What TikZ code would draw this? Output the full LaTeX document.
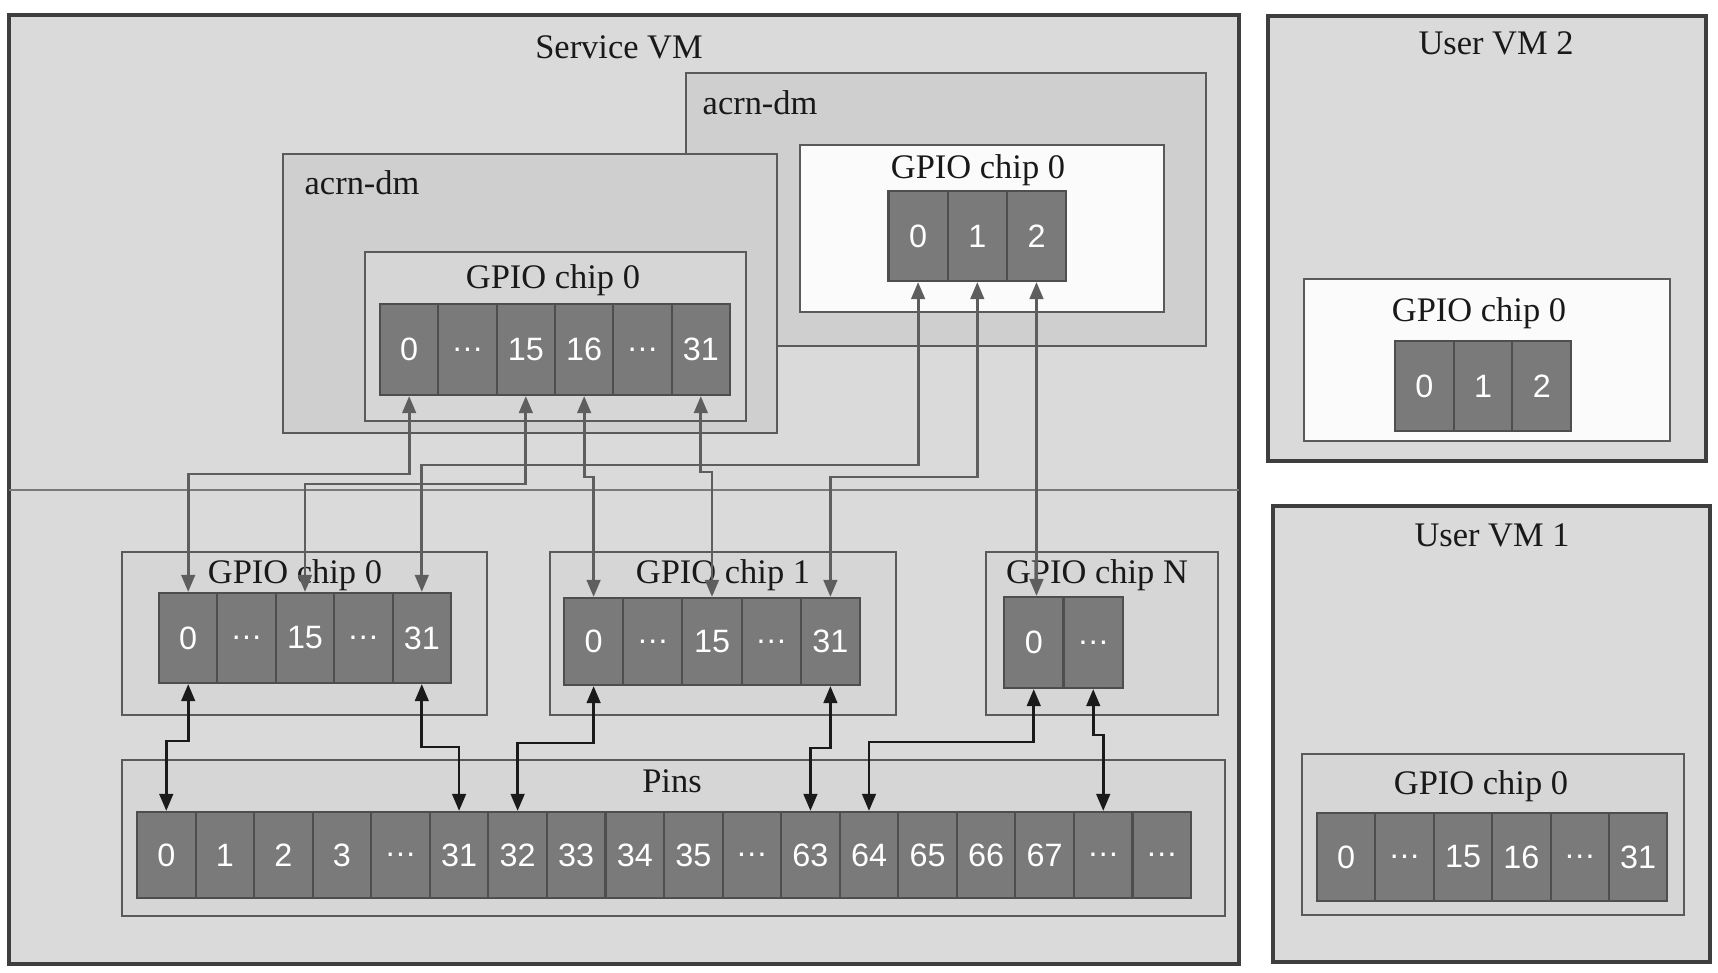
\documentclass[tikz,border=0pt]{standalone}
\usepackage{fontspec}
\setmainfont{Liberation Serif}
\newfontfamily\cellfont{Liberation Sans}
\usetikzlibrary{arrows.meta}
\definecolor{bgA}{HTML}{DADADA}
\definecolor{acrnfill}{HTML}{CFCFCF}
\definecolor{chipfill}{HTML}{D6D6D6}
\definecolor{whitebox}{HTML}{FBFBFB}
\definecolor{cellfill}{HTML}{7A7A7A}
\definecolor{cellline}{HTML}{4E4E4E}
\definecolor{boxline}{HTML}{5A5A5A}
\definecolor{outerline}{HTML}{3E3E3E}
\definecolor{garrc}{HTML}{5E5E5E}
\definecolor{barrc}{HTML}{1A1A1A}
\definecolor{divc}{HTML}{7A7A7A}
\tikzset{
  gbox/.style={draw=boxline, line width=0.8pt},
  vmbox/.style={draw=outerline, line width=1pt, fill=bgA},
  gcell/.style={draw=cellline, fill=cellfill, line width=0.6pt, text=white,
    font=\cellfont\fontsize{9.2}{10}\selectfont, inner sep=0pt},
  lbl/.style={font=\fontsize{9.8}{11}\selectfont, inner sep=0pt, text=black!90},
  garr/.style={{Triangle[length=1.7mm,width=1.35mm]}-{Triangle[length=1.7mm,width=1.35mm]}, draw=garrc, line width=0.8pt},
  barr/.style={{Triangle[length=1.7mm,width=1.35mm]}-{Triangle[length=1.7mm,width=1.35mm]}, draw=barrc, line width=0.8pt}
}
\newcommand\mkcellrow[6]{%
  \foreach \t [count=\k from 0] in {#6} {
    \node[gcell, minimum width=#3*0.1mm, minimum height=#5*0.1mm] (#1\k) at ({#2+#3*(\k+0.5)},#4) {\t};
  }%
}
\begin{document}
\begin{tikzpicture}[x=0.1mm,y=-0.1mm]
\useasboundingbox (0,0) rectangle (1718,973);
\fill[white] (0,0) rectangle (1718,973);
% Service VM
\draw[vmbox] (9,15) rectangle (1239,964);
\draw[divc, line width=0.8pt] (9,490) -- (1239,490);
% acrn-dm back
\draw[gbox, fill=acrnfill] (686,73) rectangle (1206,346);
\draw[gbox, fill=whitebox] (800,145) rectangle (1164,312);
% acrn-dm front
\draw[gbox, fill=acrnfill] (283,154) rectangle (777,433);
\draw[gbox, fill=chipfill] (365,252) rectangle (746,421);
% lower chips
\draw[gbox, fill=chipfill] (122,552) rectangle (487,715);
\draw[gbox, fill=chipfill] (550,552) rectangle (896,715);
\draw[gbox, fill=chipfill] (986,552) rectangle (1218,715);
\draw[gbox, fill=chipfill] (122,760) rectangle (1225,916);
% User VMs
\draw[vmbox] (1268,16) rectangle (1706,461);
\draw[gbox, fill=whitebox] (1304,279) rectangle (1670,441);
\draw[vmbox] (1273,506) rectangle (1710,962);
\draw[gbox, fill=chipfill] (1302,754) rectangle (1684,915);

% labels
\node[lbl, anchor=base] (tsvm) at (619,59) {Service VM};
\node[lbl, anchor=base west] (tacrnb) at (702,115) {acrn-dm};
\node[lbl, anchor=base west] (tacrnf) at (304,195) {acrn-dm};
\node[lbl, anchor=base] (tula) at (553,289) {GPIO chip 0};
\node[lbl, anchor=base] (tulb) at (978,179) {GPIO chip 0};
\node[lbl, anchor=base] (tuvm2) at (1496,55) {User VM 2};
\node[lbl, anchor=base] (tuvm2c) at (1479,322) {GPIO chip 0};
\node[lbl, anchor=base] (tuvm1) at (1492,547) {User VM 1};
\node[lbl, anchor=base] (tuvm1c) at (1481,795) {GPIO chip 0};
\node[lbl, anchor=base] (tl0) at (295,584) {GPIO chip 0};
\node[lbl, anchor=base] (tl1) at (723,584) {GPIO chip 1};
\node[lbl, anchor=base] (tlN) at (1097,584) {GPIO chip N};
\node[lbl, anchor=base] (tpins) at (672,793) {Pins};

% cells
\mkcellrow{ua}{380}{58.33}{349.5}{91}{0,…,15,16,…,31}
\mkcellrow{ub}{888.5}{59.2}{236}{90}{0,1,2}
\mkcellrow{la}{159}{58.4}{638}{90}{0,…,15,…,31}
\mkcellrow{lb}{564}{59.2}{641.5}{87}{0,…,15,…,31}
\mkcellrow{ln}{1004}{59.5}{642.5}{91}{0,…}
\mkcellrow{p}{137}{58.56}{855}{86}{0,1,2,3,…,31,32,33,34,35,…,63,64,65,66,67,…,…}
\mkcellrow{va}{1395}{58.7}{386}{90}{0,1,2}
\mkcellrow{vb}{1317}{58.4}{857}{88}{0,…,15,16,…,31}

% gray connectors (acrn-dm to physical chips)
\draw[garr] (ua0.south) -- (ua0.south |- 0,474) -| (la0.north);
\draw[garr] (ua2.south) -- (ua2.south |- 0,484) -| (la2.north);
\draw[garr] (ua3.south) -- (ua3.south |- 0,477) -| (lb0.north);
\draw[garr] (ua5.south) -- (ua5.south |- 0,472) -| (lb2.north);
\draw[garr] (ub0.south) -- (ub0.south |- 0,465) -| (la4.north);
\draw[garr] (ub1.south) -- (ub1.south |- 0,477) -| (lb4.north);
\draw[garr] (ub2.south) -- (ub2.south |- ln0.north);

% black connectors (chips to pins)
\draw[barr] (la0.south) -- (la0.south |- 0,741) -| (p0.north);
\draw[barr] (la4.south) -- (la4.south |- 0,747) -| (p5.north);
\draw[barr] (lb0.south) -- (lb0.south |- 0,743) -| (p6.north);
\draw[barr] (lb4.south) -- (lb4.south |- 0,748) -| (p11.north);
\draw[barr] (ln0.south) -- (ln0.south |- 0,742) -| (p12.north);
\draw[barr] (ln1.south) -- (ln1.south |- 0,735) -| (p16.north);
\end{tikzpicture}
\end{document}
